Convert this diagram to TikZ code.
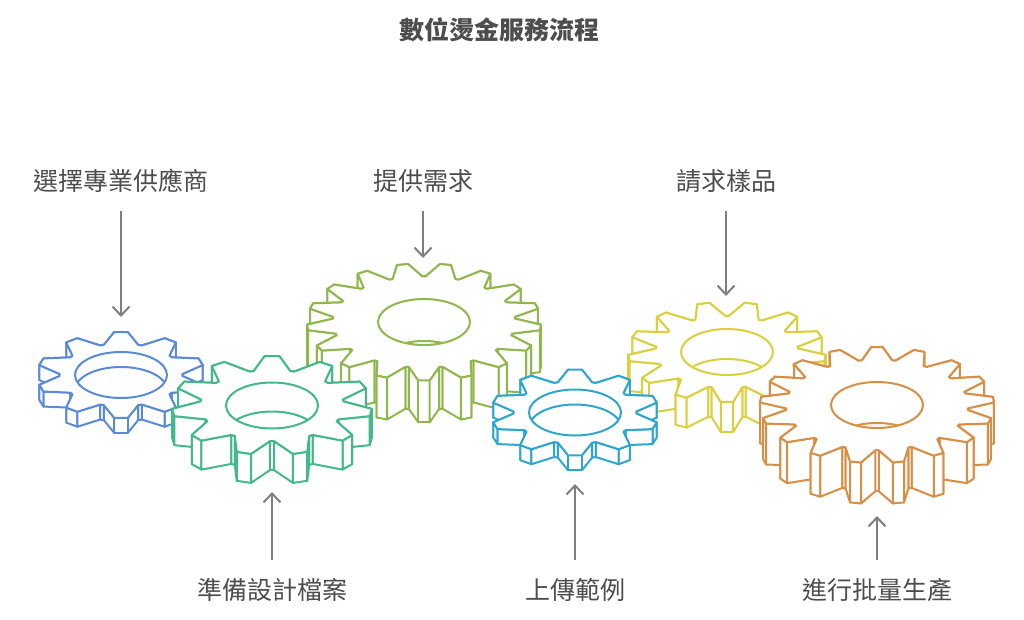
\documentclass[tikz,border=0pt]{standalone}
\usepackage{fontspec}
\setmainfont{Noto Sans CJK TC}
\usetikzlibrary{arrows.meta,positioning}
\definecolor{gearblue}{HTML}{5B8AD6}
\definecolor{gearteal}{HTML}{43B98A}
\definecolor{gearlime}{HTML}{8FB84C}
\definecolor{gearcyan}{HTML}{2FA6CF}
\definecolor{gearyellow}{HTML}{DCCF3E}
\definecolor{gearorange}{HTML}{D98E45}
\definecolor{arrowgrey}{HTML}{7F7F7F}
\definecolor{textgrey}{HTML}{4D4D4D}
\tikzset{
    conn/.style = {-{Straight Barb[length=9pt,width=17pt]},draw=arrowgrey,line width=2pt},
    lbl/.style = {inner sep=0pt,minimum height=60pt,text=textgrey,font=\fontsize{25}{30}\selectfont},
    ttl/.style = {inner sep=0pt,text=textgrey,font=\fontsize{25}{30}\selectfont\bfseries},
    gearline/.style = {line width=2pt,line join=round,fill=white}
}
% one point of the outline: sets \gx and \gy
\newcommand{\gearpt}[3]{%
    \pgfmathtruncatemacro\gi{mod(#1+8*\gearn,4*\gearn)}%
    \pgfmathtruncatemacro\gj{mod(\gi,4)}%
    \pgfmathsetmacro\gk{(\gi-\gj)/4}%
    \ifcase\gj \def\goff{-\gearb}\def\grad{\gearr}\or \def\goff{-\geart}\def\grad{1}\or
        \def\goff{\geart}\def\grad{1}\or \def\goff{\gearb}\def\grad{\gearr}\fi
    \pgfmathsetmacro#2{\gearcx+\gearrx*\grad*cos(\geara+\gk*\gearp+\goff)}%
    \pgfmathsetmacro#3{\gearcy-\gearry*\grad*sin(\geara+\gk*\gearp+\goff)}%
}
% colour, cx, cy, rx, ry, root ratio, teeth, height, half pitch offset
\newcommand{\gearat}[9]{%
    \def\gearcx{#2}\def\gearcy{#3}\def\gearrx{#4}\def\gearry{#5}\def\gearr{#6}\def\gearn{#7}
    \pgfmathsetmacro\gearp{360/#7}
    \pgfmathsetmacro\geara{90+#9*\gearp/2}
    \pgfmathsetmacro\geart{0.13*\gearp}
    \pgfmathsetmacro\gearb{0.45*\gearp}
    \pgfmathtruncatemacro\gearlast{4*#7-1}
    % side walls, back to front
    \foreach \m in {0,...,\gearlast} {
        \pgfmathtruncatemacro\q{ifthenelse(mod(\m,2)==0,\m/2,-(\m+1)/2)}
        \gearpt{\q}{\xa}{\ya}
        \pgfmathtruncatemacro\qq{\q+1}
        \gearpt{\qq}{\xb}{\yb}
        \draw[gearline,draw=#1] (\xa,\ya) -- (\xb,\yb) -- (\xb,\yb+#8) -- (\xa,\ya+#8) -- cycle;
    }
    % top face
    \gearpt{0}{\xa}{\ya}
    \xdef\gearpath{(\xa,\ya)}
    \foreach \m in {1,...,\gearlast} {
        \gearpt{\m}{\xa}{\ya}
        \xdef\gearpath{\gearpath -- (\xa,\ya)}
    }
    \draw[gearline,draw=#1] \gearpath -- cycle;
    % hole and the edge seen through it
    \begin{scope}
        \clip (#2,#3) ellipse [x radius=46pt,y radius=23pt];
        \draw[draw=#1,line width=2pt] (#2,#3+#8) ellipse [x radius=46pt,y radius=23pt];
    \end{scope}
    \draw[draw=#1,line width=2pt] (#2,#3) ellipse [x radius=46pt,y radius=23pt];
}
\begin{document}
\begin{tikzpicture}[x=1pt,y=-1pt]
    \useasboundingbox (0,0) rectangle (1024,620);

    \gearat{gearblue}{121}{375}{84}{43}{0.73}{10}{15}{0}
    \gearat{gearlime}{424}{322}{117}{58.5}{0.78}{17}{42}{1}
    \gearat{gearyellow}{727}{352}{99}{50}{0.72}{13}{30}{1}
    \gearat{gearteal}{272}{405.5}{100}{49.5}{0.72}{11}{29}{0}
    \gearat{gearcyan}{575}{412.5}{84}{43}{0.73}{10}{15}{0}
    \gearat{gearorange}{877}{405}{117}{58}{0.78}{17}{41}{0}

    \node[ttl] (title) at (499,30) {數位燙金服務流程};
    \node[lbl] (select) at (121,181) {選擇專業供應商};
    \node[lbl] (need) at (423,181) {提供需求};
    \node[lbl] (sample) at (726,181) {請求樣品};
    \node[lbl] (prepare) at (272,590) {準備設計檔案};
    \node[lbl] (upload) at (575,590) {上傳範例};
    \node[lbl] (produce) at (877,590) {進行批量生產};

    \coordinate (selectgear) at (121,317);
    \coordinate (needgear) at (423,258);
    \coordinate (samplegear) at (726,296);
    \coordinate (preparegear) at (272,492);
    \coordinate (uploadgear) at (575,484);
    \coordinate (producegear) at (877,516);

    \draw[conn] (select) -- (selectgear);
    \draw[conn] (need) -- (needgear);
    \draw[conn] (sample) -- (samplegear);
    \draw[conn] (prepare) -- (preparegear);
    \draw[conn] (upload) -- (uploadgear);
    \draw[conn] (produce) -- (producegear);
\end{tikzpicture}
\end{document}
